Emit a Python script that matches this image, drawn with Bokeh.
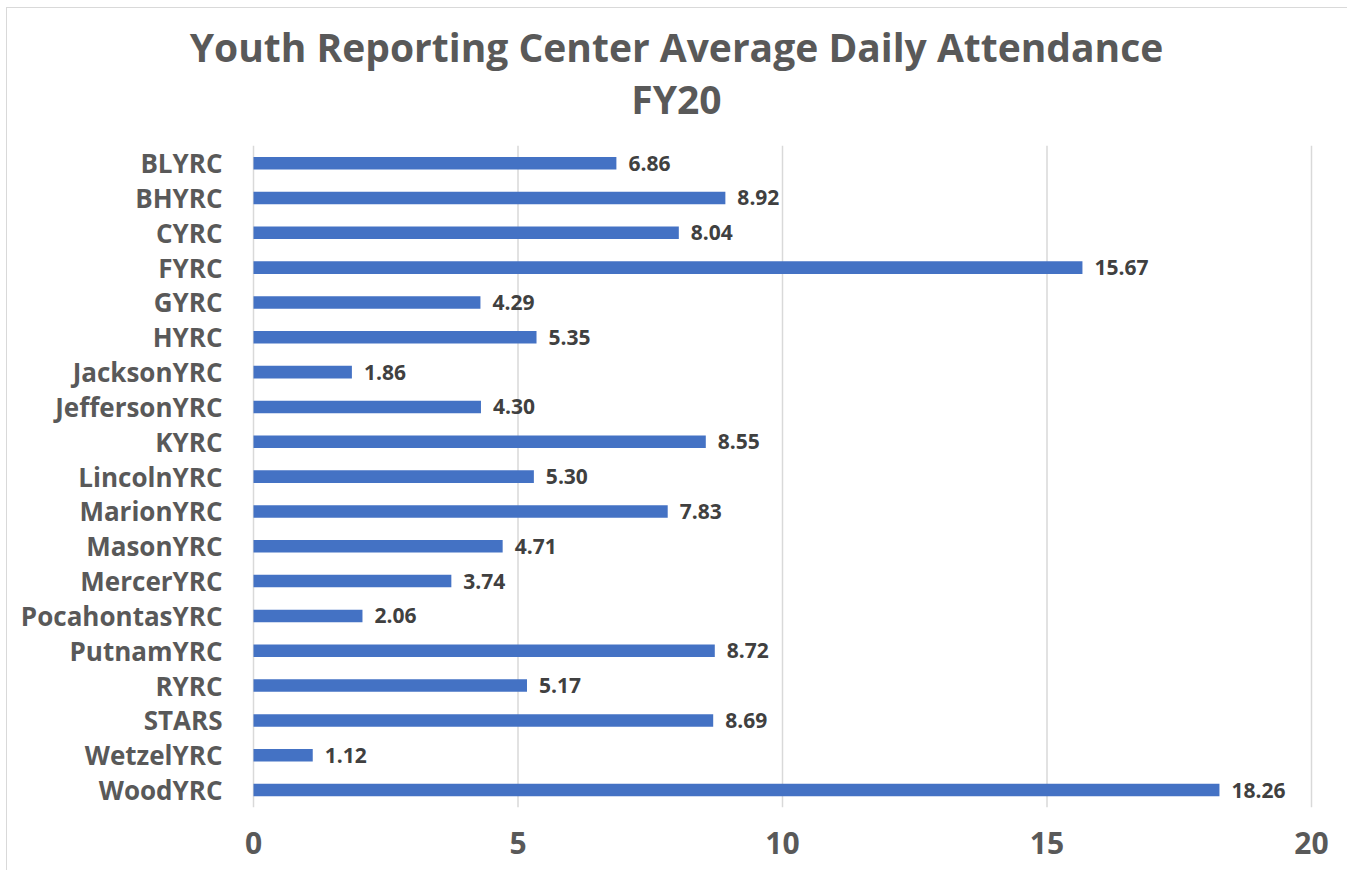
from bokeh.plotting import figure
from bokeh.models import ColumnDataSource, Range1d, FixedTicker, Label
from bokeh.core.properties import value
from bokeh.embed import file_html
from bokeh.resources import INLINE

centers = ["BLYRC", "BHYRC", "CYRC", "FYRC", "GYRC", "HYRC", "JacksonYRC",
           "JeffersonYRC", "KYRC", "LincolnYRC", "MarionYRC", "MasonYRC",
           "MercerYRC", "PocahontasYRC", "PutnamYRC", "RYRC", "STARS",
           "WetzelYRC", "WoodYRC"]
attendance = [6.86, 8.92, 8.04, 15.67, 4.29, 5.35, 1.86, 4.30, 8.55, 5.30,
              7.83, 4.71, 3.74, 2.06, 8.72, 5.17, 8.69, 1.12, 18.26]
x_ticks = [0, 5, 10, 15, 20]
title_lines = ["Youth Reporting Center Average Daily Attendance", "FY20"]

FONT = "Open Sans"
GREY = "#595959"
W, H = 1341, 863
n = len(centers)
ypos = [n - 1 - i for i in range(n)]  # first category on top

src = ColumnDataSource(dict(
    y=ypos, v=attendance, lab=["%.2f" % v for v in attendance], name=centers))

# the frame spans the whole canvas (except the x-axis strip) so that the
# title and category labels, drawn inside it, are not clipped
p = figure(width=W, height=H, output_backend="svg", toolbar_location=None,
           y_range=Range1d(-0.5, n - 0.5 + 3.94),
           x_range=Range1d(-4.6503, 20.6994),
           min_border_left=0, min_border_right=0,
           min_border_top=0, min_border_bottom=64)
p.title = None

# vertical gridlines only over the category area
p.segment(x0=x_ticks, x1=x_ticks, y0=[-0.5] * len(x_ticks),
          y1=[n - 0.5] * len(x_ticks), line_color="#d9d9d9", line_width=1.5)

title_y = [761, 709]
for line, ty in zip(title_lines, title_y):
    p.add_layout(Label(x=669, y=ty, x_units="screen", y_units="screen",
                       text=line, text_align="center", text_baseline="middle",
                       text_font=FONT, text_font_size="39px",
                       text_font_style="bold", text_color=GREY))

p.hbar(y="y", right="v", left=0, height=0.36, source=src,
       fill_color="#4472C4", line_color=None)
p.text(x="v", y="y", text="lab", source=src, x_offset=12,
       text_baseline="middle", text_align="left",
       text_font=value(FONT), text_font_size="21px", text_font_style="bold",
       text_color="#404040")
# category labels
p.text(x=0, y="y", text="name", source=src, x_offset=-31,
       text_baseline="middle", text_align="right",
       text_font=value(FONT), text_font_size="26px", text_font_style="bold",
       text_color=GREY)

p.outline_line_color = None
p.ygrid.grid_line_color = None
p.xgrid.grid_line_color = None
p.yaxis.visible = False
p.xaxis.ticker = FixedTicker(ticks=x_ticks)
p.xaxis.axis_line_color = None
p.xaxis.major_tick_line_color = None
p.xaxis.minor_tick_line_color = None
p.xaxis.major_label_text_font = FONT
p.xaxis.major_label_text_font_size = "30px"
p.xaxis.major_label_text_font_style = "bold"
p.xaxis.major_label_text_color = GREY
p.xaxis.major_label_standoff = 18

p.styles = {"margin-left": "6px", "margin-top": "7px",
            "border-left": "1px solid #d9d9d9", "border-top": "1px solid #d9d9d9"}

open("out.html", "w").write(file_html(p, INLINE))
